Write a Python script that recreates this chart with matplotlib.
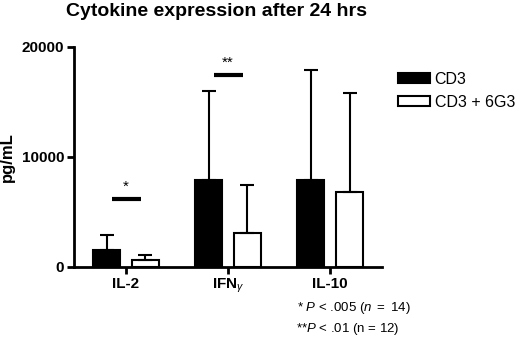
import numpy as np
import matplotlib
matplotlib.use("Agg")
import matplotlib.pyplot as plt
from matplotlib import rcParams

rcParams['font.family'] = 'sans-serif'
rcParams['font.sans-serif'] = ['Liberation Sans', 'DejaVu Sans']
rcParams['mathtext.fontset'] = 'custom'
rcParams['mathtext.rm'] = 'Liberation Sans'
rcParams['mathtext.it'] = 'Liberation Sans:italic'
rcParams['mathtext.bf'] = 'Liberation Sans:bold'

# data (pg/mL)
groups = ["IL-2", r"IFN$_{\gamma}$", "IL-10"]
cd3_mean = [1550, 7900, 7900]
cd3_err = [1350, 8100, 10000]
g3_mean = [640, 3090, 6850]
g3_err = [450, 4360, 8950]
sig_level = [6180, 17450]
sig_marks = ["*", "**"]

x = np.arange(len(groups))
w = 0.265
off = 0.19

fig = plt.figure(figsize=(5.2, 3.4), dpi=100)
ax = fig.add_axes([0.142, 0.215, 0.593, 0.647])

ekw = dict(elinewidth=1.5, capthick=1.5, capsize=5, ecolor='black')
ax.bar(x - off, cd3_mean, w, color='black', edgecolor='black', linewidth=1.5,
       yerr=[np.zeros(3), cd3_err], error_kw=ekw, label="CD3", zorder=3)
ax.bar(x + off, g3_mean, w, color='white', edgecolor='black', linewidth=1.5,
       yerr=[np.zeros(3), g3_err], error_kw=ekw, label="CD3 + 6G3", zorder=3)

# significance bars
for i, (lev, mk) in enumerate(zip(sig_level, sig_marks)):
    ax.plot([x[i] - 0.14, x[i] + 0.15], [lev, lev], color='black', lw=3, solid_capstyle='butt')
    ax.text(x[i], lev + 500, mk, ha='center', va='bottom', fontsize=11)

ax.set_xlim(-0.51, 2.51)
ax.set_ylim(0, 20000)
ax.set_yticks([0, 10000, 20000])
ax.set_xticks(x)
ax.set_xticklabels(groups, fontweight='bold', fontsize=11)
for lab in ax.get_yticklabels():
    lab.set_fontweight('bold')
    lab.set_fontsize(11)
ax.tick_params(width=2, length=5, pad=2)
for s in ['top', 'right']:
    ax.spines[s].set_visible(False)
for s in ['left', 'bottom']:
    ax.spines[s].set_linewidth(2)
ax.set_ylabel("pg/mL", fontweight='bold', fontsize=12)
ax.yaxis.set_label_coords(-0.19, 0.5)

ax.legend(loc='upper left', bbox_to_anchor=(1.03, 0.915), frameon=False, fontsize=11.5,
          handlelength=2.0, handleheight=0.6, handletextpad=0.3, labelspacing=0.5,
          borderaxespad=0)

fig.text(0.416, 0.965, "Cytokine expression after 24 hrs", ha='center', va='center',
         fontweight='bold', fontsize=14)
fig.text(0.571, 0.094, r"* $\it{P}$ < .005 $\it{(n}$ $\it{=}$ $\it{14)}$", ha='left', va='center', fontsize=9.5)
fig.text(0.569, 0.032, r"**$\it{P}$ < .01 (n = 12)", ha='left', va='center', fontsize=9.5)

fig.savefig("out.png", dpi=100)
